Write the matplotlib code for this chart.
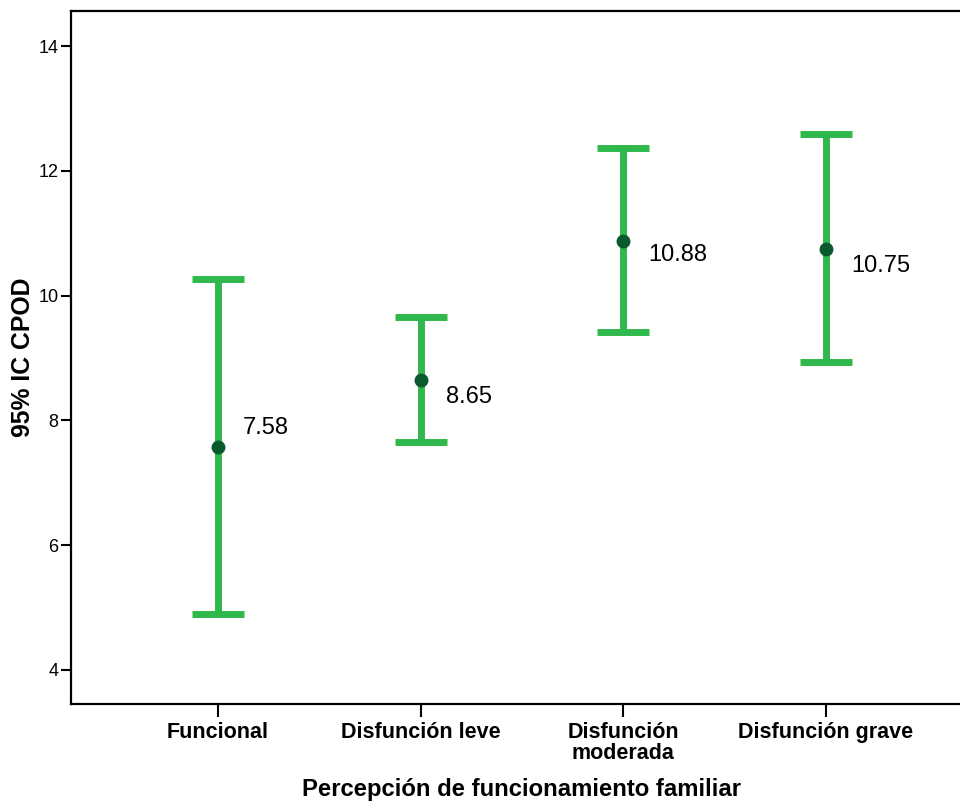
import matplotlib
matplotlib.use("Agg")
import matplotlib.pyplot as plt
import numpy as np

plt.rcParams['font.family'] = ['Liberation Sans', 'DejaVu Sans']

# datos
grupos = ['Funcional', 'Disfunción leve', 'Disfunción\nmoderada', 'Disfunción grave']
medias = [7.58, 8.65, 10.88, 10.75]
ic_inf = [4.90, 7.66, 9.41, 8.93]
ic_sup = [10.26, 9.65, 12.36, 12.59]
etiquetas = ['7.58', '8.65', '10.88', '10.75']

# desplazamiento vertical de las etiquetas (pt, negativo = abajo)
desp_y = [13, -12.5, -10, -12.5]

verde = '#2fb84b'
verde_osc = '#0a5a2e'

fig = plt.figure(figsize=(9.6, 8.01), dpi=100)
ax = fig.add_axes([0.074, 0.121, 0.926, 0.865])

x = np.arange(len(grupos))
medias = np.array(medias)
err = [medias - np.array(ic_inf), np.array(ic_sup) - medias]

ax.errorbar(x, medias, yerr=err, fmt='none', ecolor=verde, elinewidth=5,
            capsize=18.5, capthick=5, zorder=2)
ax.plot(x, medias, 'o', color=verde_osc, markersize=9, zorder=3)

for xi, yi, t, dy in zip(x, medias, etiquetas, desp_y):
    ax.annotate(t, (xi, yi), xytext=(18, dy), textcoords='offset points',
                ha='left', va='center', fontsize=17)

ax.set_xlim(-0.725, 3.661)
ax.set_ylim(3.45, 14.56)
ax.set_yticks([4, 6, 8, 10, 12, 14])
ax.set_xticks(x)
ax.set_xticklabels(grupos, fontsize=15.5, fontweight='bold', linespacing=1.0)
ax.tick_params(axis='y', labelsize=13, length=7, width=1.5, pad=2)
ax.tick_params(axis='x', length=9, width=1.5, pad=4)

ax.spines['right'].set_visible(False)
for s in ['left', 'top', 'bottom']:
    ax.spines[s].set_linewidth(1.6)

ax.set_ylabel('95% IC CPOD', fontsize=17.8, fontweight='bold', va='center')
ax.yaxis.set_label_coords(-0.054, 0.5)
ax.set_xlabel('Percepción de funcionamiento familiar', fontsize=17.2,
              fontweight='bold', va='center')
ax.xaxis.set_label_coords(0.507, -0.123)

fig.savefig('out.png', dpi=100)
